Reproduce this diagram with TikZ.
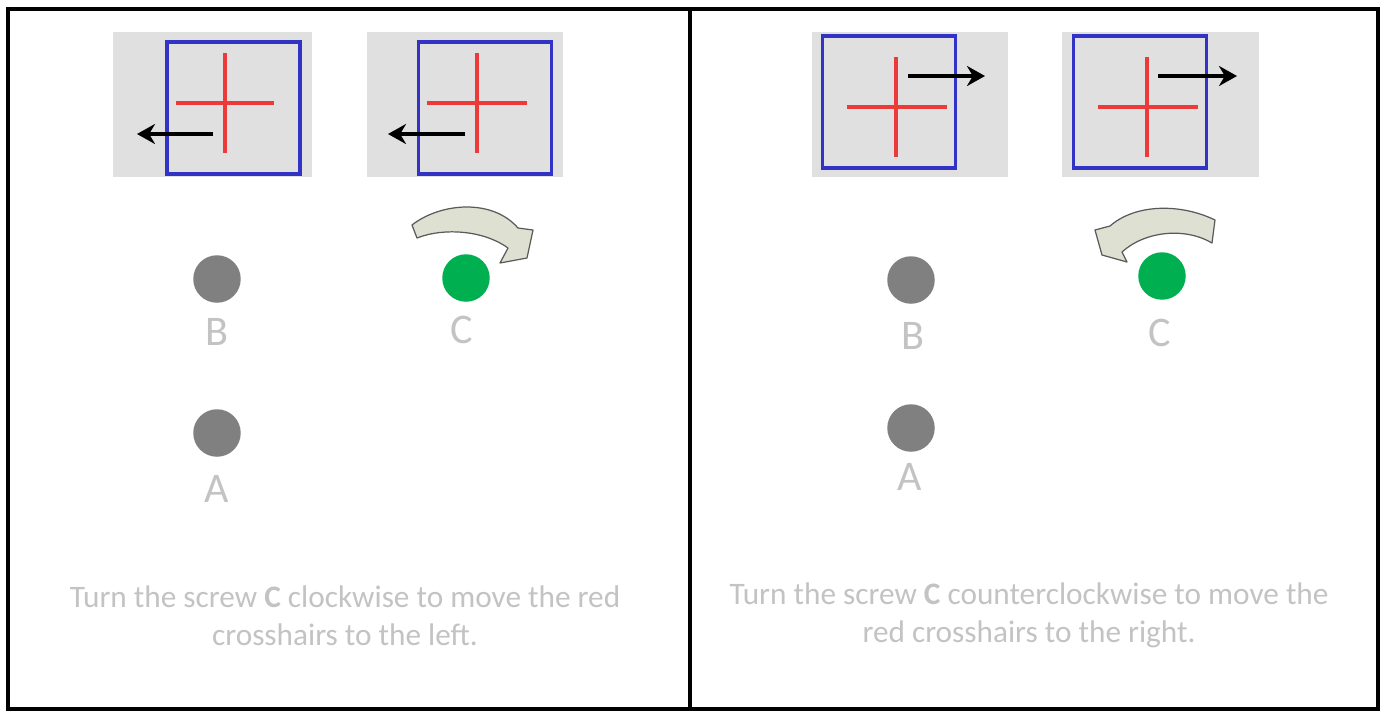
\documentclass[tikz,border=0pt]{standalone}
\usepackage{fontspec}
\setmainfont{Carlito}
\usepackage{tikz}
\usetikzlibrary{arrows.meta}
\usepackage{xcolor}
\definecolor{plategray}{RGB}{224,224,224}
\definecolor{frameblue}{RGB}{50,50,196}
\definecolor{crossred}{RGB}{236,58,58}
\definecolor{screwgreen}{RGB}{0,176,80}
\definecolor{screwgray}{RGB}{128,128,128}
\definecolor{labelgray}{RGB}{195,195,195}
\definecolor{turnfill}{RGB}{222,224,210}
\definecolor{turnedge}{RGB}{90,90,90}

\begin{document}
\begin{tikzpicture}[x=0.02cm,y=-0.02cm,>={Stealth[length=3.6mm,width=4mm]},line cap=round,
  plate/.style={fill=plategray,inner sep=0pt,minimum height=2.9cm},
  reticle/.style={draw=frameblue,line width=2pt,inner sep=0pt,minimum width=2.66cm,minimum height=2.64cm},
  hair/.style={draw=crossred,line width=1.8pt,line cap=butt},
  movearrow/.style={->,black,line width=2pt,line cap=butt},
  screw/.style={circle,inner sep=0pt,minimum size=0.95cm},
  letter/.style={text=labelgray,font=\fontsize{24}{28}\selectfont},
  caption/.style={text=labelgray,align=center,font=\fontsize{17.8}{21.6}\selectfont},
  turn/.style={fill=turnfill,draw=turnedge,line width=0.7pt,line join=round}]
\useasboundingbox (0,0) rectangle (1384,711);
\fill[white] (0,0) rectangle (1384,711);
\draw[black,line width=1.8pt] (8,9) rectangle (690,709);
\draw[black,line width=1.8pt] (690,9) rectangle (1378,709);

\node[plate,minimum width=3.98cm] (plateL1) at (212.5,104.5) {};
\node[reticle] (boxL1) at (233.5,108) {};
\draw[hair] (225,53) -- (225,153) (176,103) -- (274,103);
\coordinate (tailL1) at (213,134);
\coordinate (headL1) at (137,134);
\draw[movearrow] (tailL1) -- (headL1);

\node[plate,minimum width=3.94cm] (plateL2) at (465,104.5) {};
\node[reticle] (boxL2) at (485,108) {};
\draw[hair] (477,53) -- (477,153) (427,103) -- (527,103);
\coordinate (tailL2) at (465,134);
\coordinate (headL2) at (388,134);
\draw[movearrow] (tailL2) -- (headL2);

\node[plate,minimum width=3.92cm] (plateR1) at (910,104.5) {};
\node[reticle] (boxR1) at (889,102) {};
\draw[hair] (896,57) -- (896,157) (847,107) -- (947,107);
\coordinate (tailR1) at (908,76);
\coordinate (headR1) at (985,76);
\draw[movearrow] (tailR1) -- (headR1);

\node[plate,minimum width=3.94cm] (plateR2) at (1160.5,104.5) {};
\node[reticle] (boxR2) at (1140,102) {};
\draw[hair] (1147,57) -- (1147,157) (1098,107) -- (1198,107);
\coordinate (tailR2) at (1158,76);
\coordinate (headR2) at (1237,76);
\draw[movearrow] (tailR2) -- (headR2);

\node[screw,fill=screwgray] (screwLB) at (217,279) {};
\node[screw,fill=screwgray] (screwLA) at (217,433) {};
\node[screw,fill=screwgreen] (screwLC) at (466,278) {};
\node[letter] (labLB) at (217,332) {B};
\node[letter] (labLA) at (217,489) {A};
\node[letter] (labLC) at (462,330) {C};

\node[screw,fill=screwgray] (screwRB) at (911,280) {};
\node[screw,fill=screwgray] (screwRA) at (911,428) {};
\node[screw,fill=screwgreen] (screwRC) at (1162,276) {};
\node[letter] (labRB) at (913,336) {B};
\node[letter] (labRA) at (910,477) {A};
\node[letter] (labRC) at (1160,333) {C};

\draw[turn] (412,225) .. controls (440,203) and (492,198) .. (518,228) -- (533,230) -- (527,258) -- (500,263) -- (508,248) .. controls (485,231) and (445,227) .. (417,238) -- cycle;
\draw[turn] (1215,220) .. controls (1180,203) and (1135,204) .. (1110,226) -- (1095,230) -- (1102,255) -- (1127,262) -- (1122,252) .. controls (1145,231) and (1185,227) .. (1212,243) -- cycle;

\node[caption] (noteL) at (345,616) {Turn the screw \textbf{C} clockwise to move the red\\crosshairs to the left.};
\node[caption] (noteR) at (1029,615) {Turn the screw \textbf{C} counterclockwise to move the\\red crosshairs to the right.};
\end{tikzpicture}
\end{document}
